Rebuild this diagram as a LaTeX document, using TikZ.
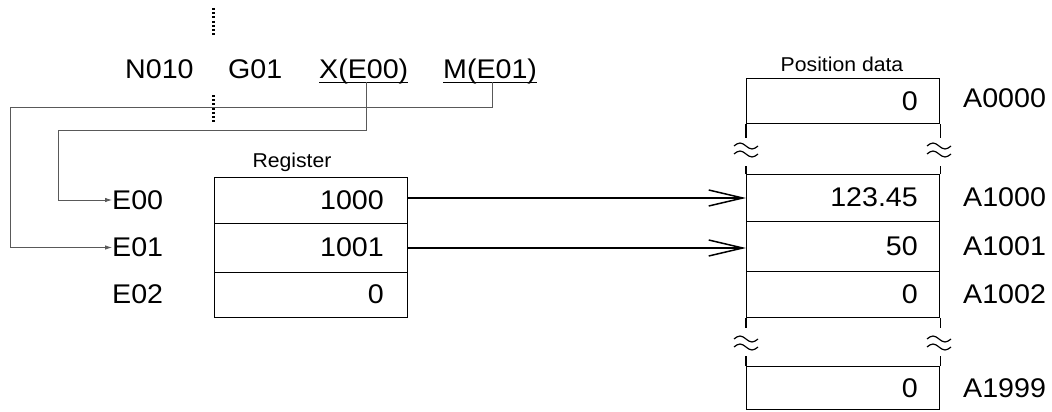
\documentclass[tikz,border=0pt]{standalone}
\usepackage{fontspec}
\setmainfont{Liberation Sans}[FakeStretch=1.06]
\usetikzlibrary{arrows.meta,positioning}
\begin{document}
\begin{tikzpicture}[x=1pt,y=-1pt,
  big/.style={font=\fontsize{27}{31}\selectfont},
  small/.style={font=\fontsize{20}{23}\selectfont},
  cell/.style={draw, line width=1.3pt, inner sep=0pt, minimum width=193pt, anchor=north west},
  val/.style={big, anchor=east, inner sep=0pt},
  lbl/.style={big, anchor=west, inner sep=0pt},
  prog/.style={big, anchor=base west, inner sep=0pt},
  conn/.style={draw=black!65, line width=0.8pt, -{Latex[length=7pt,width=4.5pt]}},
  bigarrow/.style={line width=1.5pt, -{Straight Barb[length=34pt,width=16pt,line width=1.5pt]}},
  brk/.style={line width=1.3pt},
  wavy/.style={line width=1.2pt},
  dots/.style={line width=3pt, dash pattern=on 2pt off 2.2pt}
]
\useasboundingbox (0,0) rectangle (1052,412);

% program line
\node[prog] (n010) at (125,78) {N010};
\node[prog] (g01) at (228,78) {G01};
\node[prog] (xe) at (319,78) {X(E00)};
\node[prog] (me) at (443,78) {M(E01)};
\draw[line width=0.8pt] ([yshift=-4pt]xe.base west) -- ([yshift=-4pt]xe.base east);
\draw[line width=0.8pt] ([yshift=-4pt]me.base west) -- ([yshift=-4pt]me.base east);
\coordinate (xu) at (366,82);
\coordinate (mu) at (492,82);

% dotted vertical lines
\coordinate (d1a) at (213,8); \coordinate (d1b) at (213,36);
\coordinate (d2a) at (213,95); \coordinate (d2b) at (213,124);
\draw[dots] (d1a) -- (d1b);
\draw[dots] (d2a) -- (d2b);

% register
\node[small, anchor=south] (reglbl) at (292,175) {Register};
\node[cell, minimum height=46pt] (r0) at (214,177) {};
\node[cell, minimum height=49pt] (r1) at (214,223) {};
\node[cell, minimum height=45pt] (r2) at (214,272) {};
\node[val] (v0) at (384,200) {1000};
\node[val] (v1) at (384,247.5) {1001};
\node[val] (v2) at (384,294.5) {0};
\node[lbl] (e0) at (112,200) {E00};
\node[lbl] (e1) at (112,247.5) {E01};
\node[lbl] (e2) at (112,294.5) {E02};

% connectors from program line
\draw[conn] (xu) |- (58,130) |- (e0.west);
\draw[conn] (mu) |- (10,107) |- (e1.west);

% position data
\node[small, anchor=south] (poslbl) at (842,75) {Position data};
\node[cell, minimum height=45pt] (p0) at (746,78) {};
\node[cell, minimum height=47pt] (p1) at (746,174) {};
\node[cell, minimum height=50pt] (p2) at (746,221) {};
\node[cell, minimum height=46pt] (p3) at (746,271) {};
\node[cell, minimum height=43pt] (p4) at (746,366) {};
\node[val] (q0) at (918,101) {0};
\node[val] (q1) at (918,197.5) {123.45};
\node[val] (q2) at (918,246.5) {50};
\node[val] (q3) at (918,294.5) {0};
\node[val] (q4) at (918,388) {0};
\node[lbl] (a0) at (963,98) {A0000};
\node[lbl] (a1) at (963,197.5) {A1000};
\node[lbl] (a2) at (963,246.5) {A1001};
\node[lbl] (a3) at (963,294.5) {A1002};
\node[lbl] (a4) at (963,388) {A1999};

% break stubs
\draw[brk] (p0.south west) -- ++(0,14);
\draw[brk] (p0.south east) -- ++(0,14);
\draw[brk] (p1.north west) -- ++(0,-8);
\draw[brk] (p1.north east) -- ++(0,-8);
\draw[brk] (p3.south west) -- ++(0,10);
\draw[brk] (p3.south east) -- ++(0,10);
\draw[brk] (p4.north west) -- ++(0,-10);
\draw[brk] (p4.north east) -- ++(0,-10);
\foreach \cx/\cy in {746/150, 939/150, 746/343, 939/343}{
  \foreach \dy in {-4,4}{
    \draw[wavy] (\cx-12,\cy+\dy) sin ++(6,-3) cos ++(6,3) sin ++(6,3) cos ++(6,-3);
  }
}

% big arrows
\draw[bigarrow] (r0.east |- 0,198) -- (p1.west |- 0,198);
\draw[bigarrow] (r1.east |- 0,248) -- (p2.west |- 0,248);
\end{tikzpicture}
\end{document}
